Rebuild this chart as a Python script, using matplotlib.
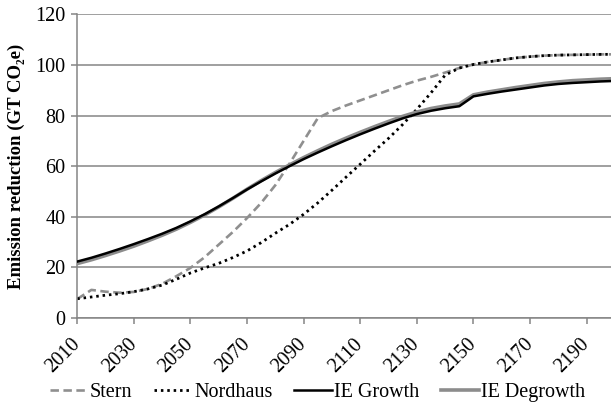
import matplotlib
matplotlib.use("Agg")
import matplotlib.pyplot as plt
import matplotlib.transforms as mtransforms

plt.rcParams["font.family"] = ["Liberation Serif", "DejaVu Serif"]

years = list(range(2010, 2201, 5))

stern = [7.5, 11.1, 10.4, 10.0, 10.3, 11.5, 13.5, 16.5, 19.8, 24.0,
         29.0, 34.0, 39.5, 45.5, 52.5, 61.0, 70.0, 79.0, 81.8, 84.0,
         86.0, 88.0, 90.0, 92.0, 93.8, 95.3, 97.0, 98.8, 100.2, 101.2,
         102.0, 102.8, 103.3, 103.7, 103.9, 104.0, 104.1, 104.2, 104.2]

nordhaus = [7.6, 8.3, 9.0, 9.6, 10.4, 11.5, 13.0, 15.3, 17.8, 19.8,
            21.6, 23.9, 26.5, 29.8, 33.5, 37.0, 41.0, 45.5, 50.5, 55.7,
            60.8, 66.0, 71.0, 76.5, 82.5, 89.0, 96.0, 98.8, 100.2, 101.2,
            102.0, 102.8, 103.3, 103.7, 103.9, 104.0, 104.1, 104.2, 104.2]

ie_growth = [22.3, 23.8, 25.5, 27.3, 29.2, 31.2, 33.3, 35.6, 38.2, 41.0,
             44.1, 47.4, 50.8, 54.0, 57.1, 60.0, 62.8, 65.4, 67.9, 70.3,
             72.6, 74.8, 76.9, 78.9, 80.6, 81.9, 82.9, 83.7, 87.6, 88.6,
             89.5, 90.3, 91.1, 91.9, 92.5, 92.9, 93.2, 93.5, 93.7]

ie_degrowth = [21.5, 23.0, 24.7, 26.5, 28.4, 30.5, 32.7, 35.1, 37.8, 40.7,
               43.9, 47.3, 50.9, 54.3, 57.5, 60.5, 63.4, 66.1, 68.7, 71.1,
               73.4, 75.6, 77.7, 79.7, 81.4, 82.8, 83.8, 84.6, 88.2, 89.3,
               90.2, 91.1, 91.9, 92.7, 93.3, 93.8, 94.1, 94.4, 94.6]

tick_years = list(range(2010, 2191, 20))

fig = plt.figure(figsize=(6.11, 4.04), dpi=100)
ax = fig.add_axes([0.1264, 0.2129, 0.8736, 0.7515])

grid_col = "#858585"
ax.set_axisbelow(True)
ax.grid(axis="y", color=grid_col, linewidth=1.1)

ax.plot(years, stern, color="#8f8f8f", linewidth=1.9,
        linestyle=(0, (3.2, 1.7)), label="Stern")
ax.plot(years, nordhaus, color="black", linewidth=2.0,
        linestyle=(0, (0.9, 1.4)), label="Nordhaus")
ax.plot(years, ie_degrowth, color="#8c8c8c", linewidth=2.6,
        label="IE Degrowth", zorder=3)
ax.plot(years, ie_growth, color="black", linewidth=1.8,
        label="IE Growth", zorder=4)

ax.set_xlim(2010, 2198.6)
ax.set_ylim(0, 120)
ax.set_yticks(range(0, 121, 20))
ax.set_xticks(tick_years)
ax.set_xticklabels([str(y) for y in tick_years], rotation=45,
                   rotation_mode="anchor", ha="right", va="center")

# nudge the slanted year labels a little to the right
shift = mtransforms.ScaledTranslation(4 / 100, 0, fig.dpi_scale_trans)
for lbl in ax.get_xticklabels():
    lbl.set_transform(lbl.get_transform() + shift)

for side in ("top", "right"):
    ax.spines[side].set_visible(False)
for side in ("left", "bottom"):
    ax.spines[side].set_color(grid_col)
    ax.spines[side].set_linewidth(1.1)

ax.tick_params(axis="x", direction="out", length=4, width=1.1,
               color=grid_col, labelsize=14.5, pad=13)
ax.tick_params(axis="y", direction="out", length=4, width=1.1,
               color=grid_col, labelsize=14.5, pad=4.5)

ax.set_ylabel("Emission reduction (GT CO\u2082e)", fontsize=13.5,
              fontweight="bold", labelpad=7)

handles, labels = ax.get_legend_handles_labels()
order = [0, 1, 3, 2]
ax.legend([handles[i] for i in order], [labels[i] for i in order],
          loc="center", bbox_to_anchor=(0.45, -0.245), ncol=4,
          frameon=False, fontsize=14.5, handlelength=1.9,
          handletextpad=0.1, columnspacing=1.06, borderaxespad=0)

fig.savefig("out.png", dpi=100)
